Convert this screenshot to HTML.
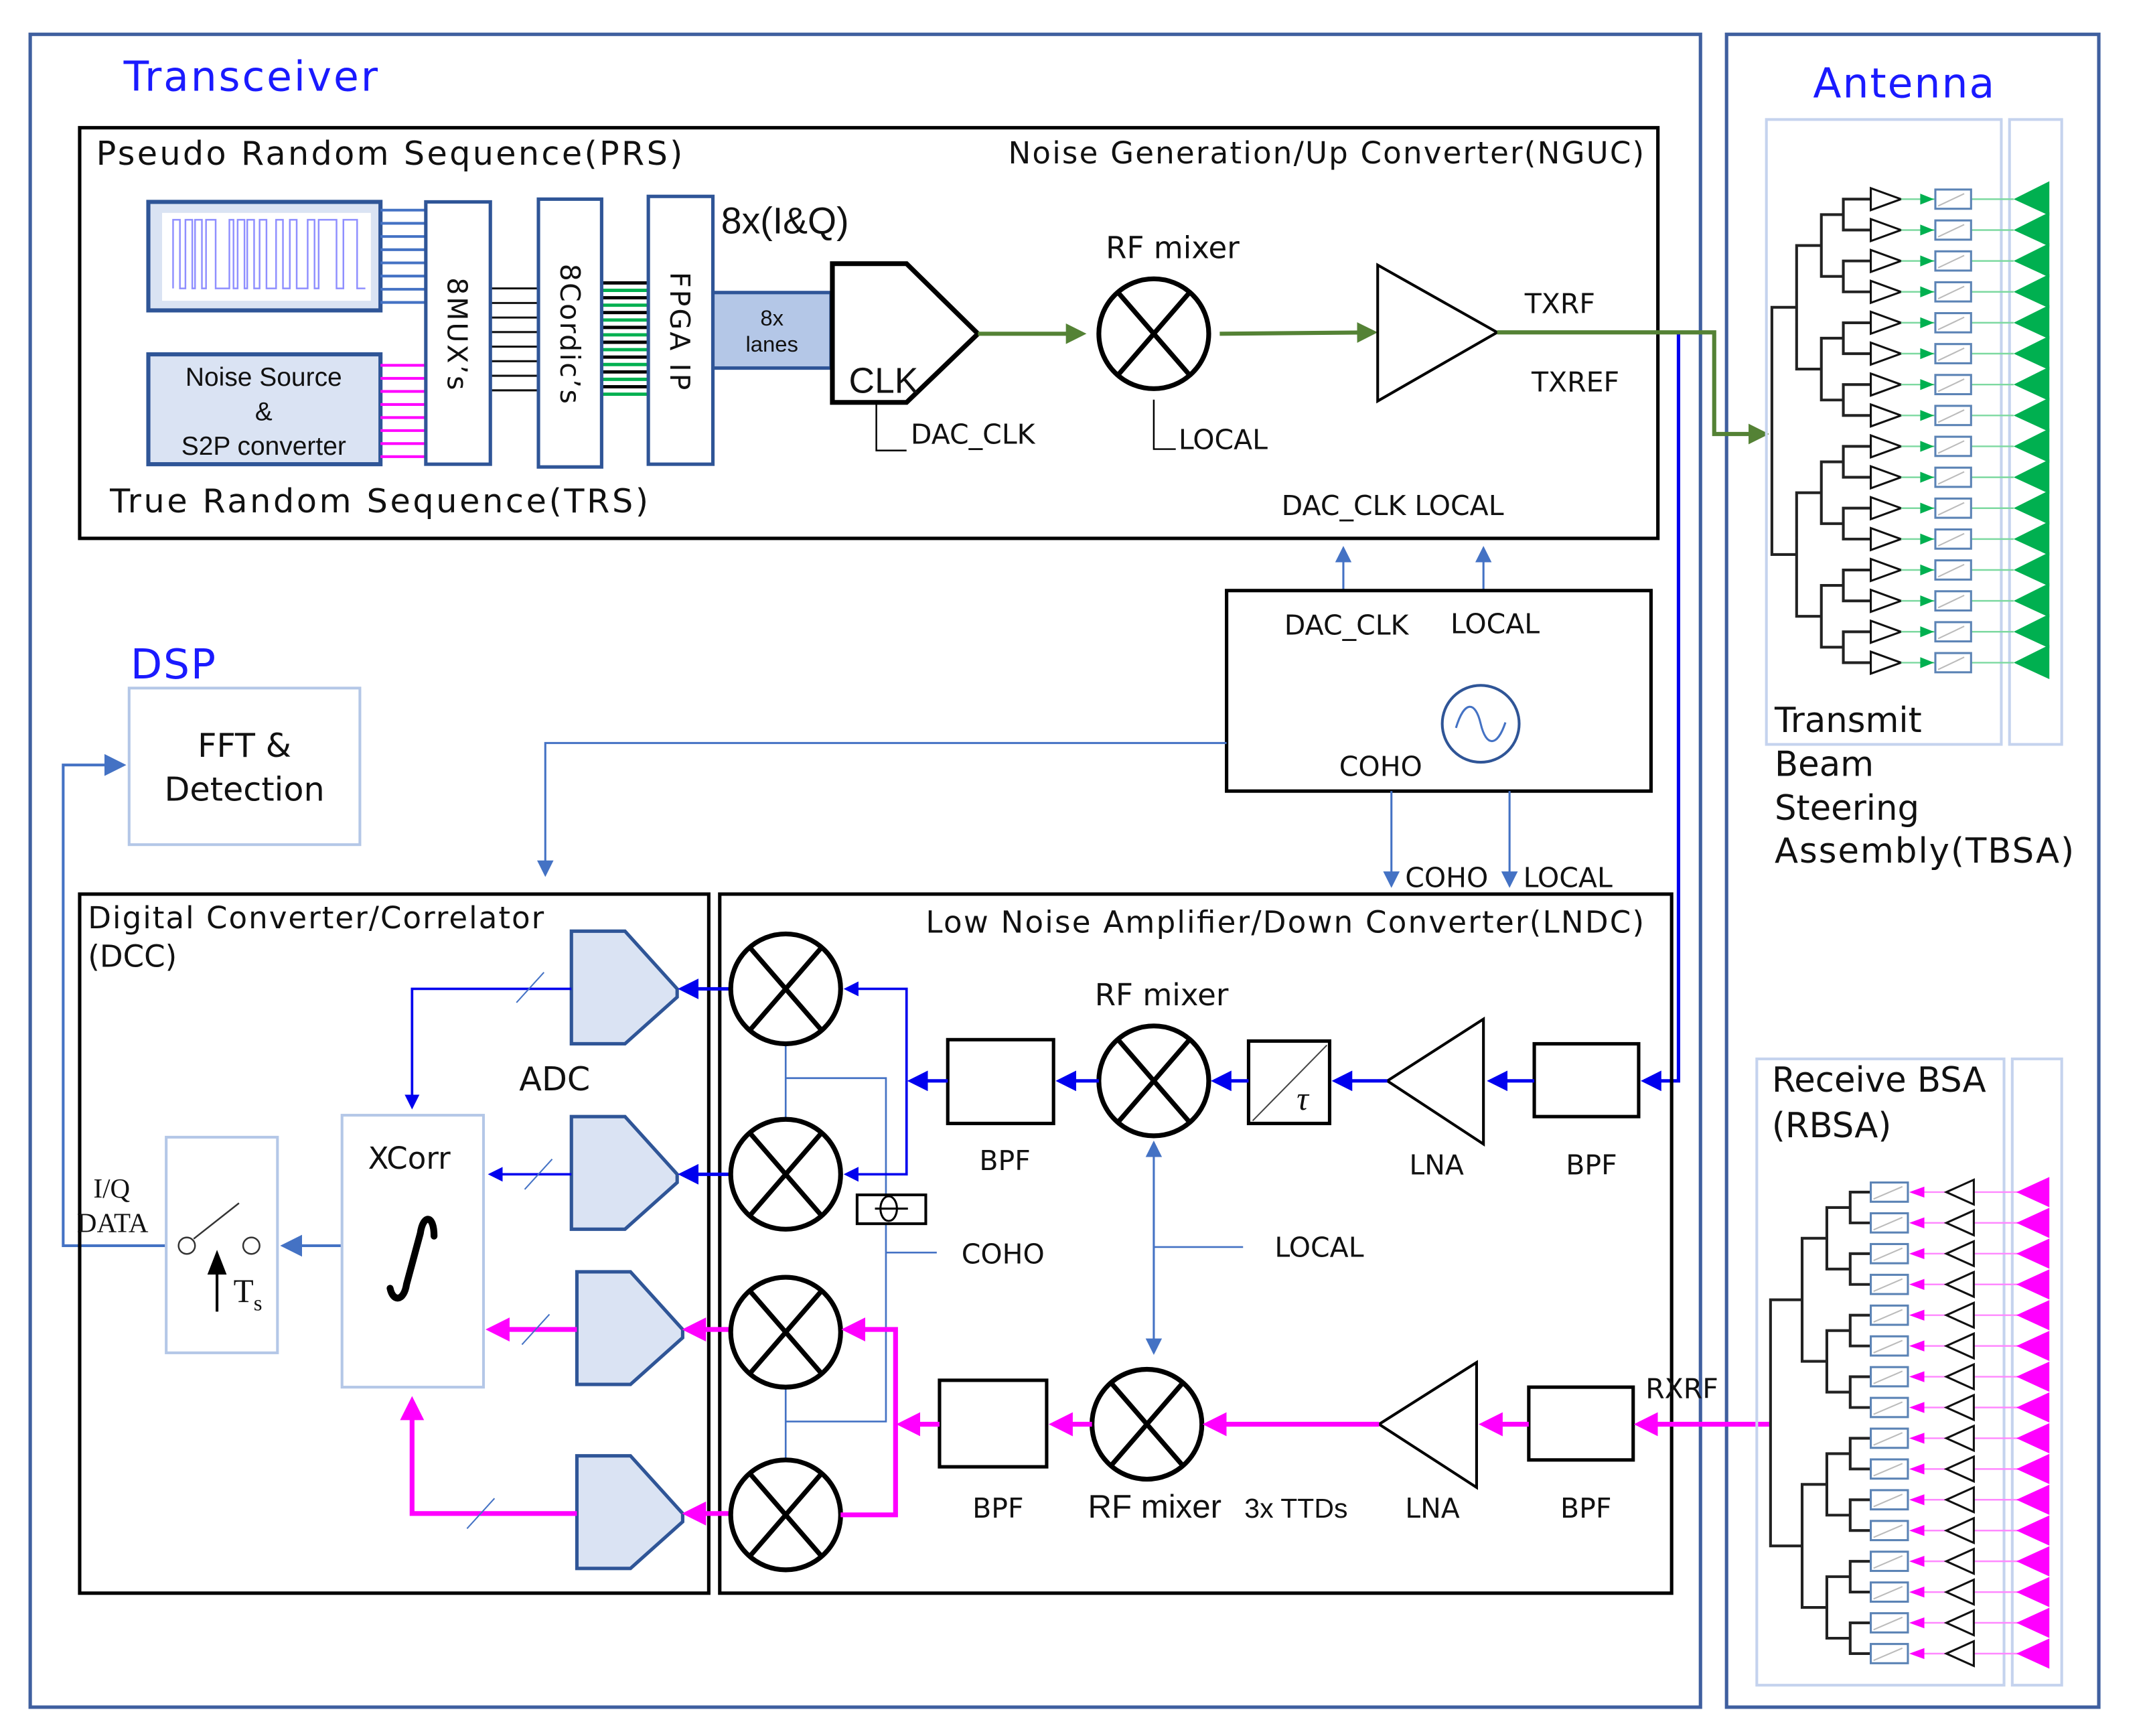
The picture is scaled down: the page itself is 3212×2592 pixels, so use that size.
<!DOCTYPE html>
<html><head><meta charset="utf-8"><style>
html,body{margin:0;padding:0;background:#fff;}
svg{display:block;}
text{font-family:"DejaVu Sans","Liberation Sans",sans-serif;fill:#111;}
.c{font-family:"Liberation Sans Narrow","Liberation Sans",sans-serif;}
</style></head><body>
<svg id="s" xmlns="http://www.w3.org/2000/svg" width="3212" height="2592" viewBox="0 0 1566 1264" preserveAspectRatio="none">
<defs>
<marker id="ab" markerWidth="6" markerHeight="6" refX="5" refY="3" orient="auto" markerUnits="strokeWidth"><path d="M0,0L6,3L0,6z" fill="#0000ee"/></marker>
<marker id="al" markerWidth="8" markerHeight="8" refX="7" refY="4" orient="auto" markerUnits="strokeWidth"><path d="M0,0L8,4L0,8z" fill="#4472c4"/></marker>
<marker id="am" markerWidth="5" markerHeight="5" refX="4" refY="2.5" orient="auto" markerUnits="strokeWidth"><path d="M0,0L5,2.5L0,5z" fill="#ff00ff"/></marker>
<marker id="ag" markerWidth="5" markerHeight="5" refX="4" refY="2.5" orient="auto" markerUnits="strokeWidth"><path d="M0,0L5,2.5L0,5z" fill="#548235"/></marker>
<g id="mix"><ellipse cx="0" cy="0" rx="40" ry="40" fill="#fff" stroke="#000" stroke-width="3.5"/><path d="M-26,-30L26,30M26,-30L-26,30" stroke="#000" stroke-width="3.5"/></g>
<polygon id="adc" points="0,0 39,0 77,42 77,48 39,82 0,82" fill="#dae3f3" stroke="#2f5597" stroke-width="2.5"/>
</defs>
<rect width="1566" height="1264" fill="#fff"/>
<rect x="22" y="25" width="1216" height="1218" fill="none" stroke="#3f5f9f" stroke-width="2.5"/>
<rect x="1257" y="25" width="271" height="1218" fill="none" stroke="#3f5f9f" stroke-width="2.5"/>
<text x="90" y="66" font-size="30" style="fill:#1a1aff" textLength="185">Transceiver</text>
<text x="1320" y="71" font-size="30" style="fill:#1a1aff" textLength="132">Antenna</text>

<rect x="58" y="93" width="1149" height="299" fill="none" stroke="#000" stroke-width="2.5"/>
<text x="70" y="120" font-size="24" textLength="427">Pseudo Random Sequence(PRS)</text>
<text x="734" y="119" font-size="22" textLength="463">Noise Generation/Up Converter(NGUC)</text>
<text x="80" y="373" font-size="24" textLength="392">True Random Sequence(TRS)</text>
<rect x="108" y="147" width="169" height="79" fill="#dae3f3" stroke="#2f5597" stroke-width="3"/>
<rect x="118" y="155" width="152" height="64" fill="#fff"/>
<path d="M126,210 V160 H131 V210 H135 V160 H140 V210 H142 V160 H147 V210 H150 V160 H157 V210 H167 V160 H170 V210 H173 V160 H178 V210 H180 V160 H185 V210 H189 V160 H194 V210 H201 V160 H206 V210 H211 V160 H216 V210 H224 V160 H229 V210 H232 V160 H245 V210 H250 V160 H260 V210 H266" fill="none" stroke="#8f8fff" stroke-width="1.2"/>
<rect x="108" y="258" width="169" height="80" fill="#dae3f3" stroke="#2f5597" stroke-width="3"/>
<text class="c" x="192" y="281" font-size="19" text-anchor="middle">Noise Source</text>
<text class="c" x="192" y="306" font-size="19" text-anchor="middle">&amp;</text>
<text class="c" x="192" y="331" font-size="19" text-anchor="middle">S2P converter</text>
<g id="lines1"></g>
<rect x="310" y="147" width="47" height="191" fill="#fff" stroke="#2f5597" stroke-width="2.5"/>
<rect x="392" y="145" width="46" height="195" fill="#fff" stroke="#2f5597" stroke-width="2.5"/>
<rect x="472" y="143" width="47" height="195" fill="#fff" stroke="#2f5597" stroke-width="2.5"/>
<text x="0" y="0" font-size="20" transform="translate(326,202) rotate(90)" textLength="82">8MUX’s</text>
<text x="0" y="0" font-size="20" transform="translate(408,192) rotate(90)" textLength="102">8Cordic’s</text>
<text x="0" y="0" font-size="20" transform="translate(488,198) rotate(90)" textLength="86">FPGA IP</text>
<text x="525" y="170" font-size="27" style="font-family:'Liberation Sans Narrow','Liberation Sans',sans-serif">8x(I&amp;Q)</text>
<rect x="519" y="213" width="86" height="55" fill="#b4c7e7" stroke="#2f5597" stroke-width="2.5"/>
<text class="c" x="562" y="237" font-size="16" text-anchor="middle">8x</text>
<text class="c" x="562" y="256" font-size="16" text-anchor="middle">lanes</text>
<polygon points="606,192 660,192 712,243 660,293 606,293" fill="#fff" stroke="#000" stroke-width="3.5"/>
<text class="c" x="618" y="286" font-size="26">CLK</text>
<path d="M638,293V328H660" fill="none" stroke="#000" stroke-width="1.2"/>
<text x="663" y="323" font-size="20">DAC_CLK</text>
<path d="M712,243H788" stroke="#548235" stroke-width="3" marker-end="url(#ag)"/>
<use href="#mix" x="840" y="243"/>
<text x="805" y="188" font-size="22">RF mixer</text>
<path d="M840,291V327H856" fill="none" stroke="#000" stroke-width="1.2"/>
<text x="858" y="327" font-size="20">LOCAL</text>
<path d="M888,243L1000,242" stroke="#548235" stroke-width="3" marker-end="url(#ag)"/>
<polygon points="1003,193 1003,292 1090,242" fill="#fff" stroke="#000" stroke-width="2"/>
<text x="1110" y="228" font-size="20">TXRF</text>
<text x="1115" y="285" font-size="20">TXREF</text>
<path d="M1222,242V787H1197" fill="none" stroke="#0000ee" stroke-width="2.5" marker-end="url(#ab)"/>
<path d="M1090,242H1248V316H1285" fill="none" stroke="#548235" stroke-width="3" marker-end="url(#ag)"/>
<text x="933" y="375" font-size="20">DAC_CLK LOCAL</text>
<path d="M978,430V399" stroke="#4472c4" stroke-width="1.5" marker-end="url(#al)"/>
<path d="M1080,430V399" stroke="#4472c4" stroke-width="1.5" marker-end="url(#al)"/>

<rect x="893" y="430" width="309" height="146" fill="none" stroke="#000" stroke-width="2.5"/>
<text x="935" y="462" font-size="20">DAC_CLK</text>
<text x="1056" y="461" font-size="20">LOCAL</text>
<text x="975" y="565" font-size="20">COHO</text>
<ellipse cx="1078" cy="527" rx="28" ry="28" fill="none" stroke="#2f5597" stroke-width="2"/>
<path d="M1060,530 C1066,510 1074,510 1078,527 C1082,544 1090,544 1096,526" fill="none" stroke="#4472c4" stroke-width="1.5"/>
<path d="M893,541H397V637" fill="none" stroke="#4472c4" stroke-width="1.5" marker-end="url(#al)"/>
<path d="M1013,576V645" stroke="#4472c4" stroke-width="1.5" marker-end="url(#al)"/>
<path d="M1099,576V645" stroke="#4472c4" stroke-width="1.5" marker-end="url(#al)"/>
<text x="1023" y="646" font-size="20">COHO</text>
<text x="1109" y="646" font-size="20">LOCAL</text>

<text x="95" y="494" font-size="30" style="fill:#1a1aff" textLength="62">DSP</text>
<rect x="94" y="501" width="168" height="114" fill="none" stroke="#b4c7e7" stroke-width="2"/>
<text x="178" y="551" font-size="24" text-anchor="middle">FFT &amp;</text>
<text x="178" y="583" font-size="24" text-anchor="middle">Detection</text>
<path d="M121,907H46V557H90" fill="none" stroke="#4472c4" stroke-width="2" marker-end="url(#al)"/>

<rect x="58" y="651" width="458" height="509" fill="none" stroke="#000" stroke-width="2.5"/>
<text x="64" y="676" font-size="22" textLength="332">Digital Converter/Correlator</text>
<text x="64" y="704" font-size="22">(DCC)</text>
<rect x="121" y="828" width="81" height="157" fill="none" stroke="#b4c7e7" stroke-width="2"/>
<text x="68" y="872" font-size="20" style="font-family:'Liberation Serif',serif">I/Q</text>
<text x="56" y="897" font-size="20" style="font-family:'Liberation Serif',serif" textLength="52">DATA</text>
<circle cx="136" cy="907" r="6" fill="#fff" stroke="#333" stroke-width="1.2"/>
<circle cx="183" cy="907" r="6" fill="#fff" stroke="#333" stroke-width="1.2"/>
<path d="M141,902L174,876" stroke="#333" stroke-width="1.2"/>
<path d="M158,955V925" stroke="#000" stroke-width="2"/><path d="M151,928L158,910L165,928z" fill="#000"/>
<text x="170" y="948" font-size="24" style="font-family:'Liberation Serif',serif">T<tspan font-size="16" dy="6">s</tspan></text>
<path d="M249,907H206" stroke="#4472c4" stroke-width="2" marker-end="url(#al)"/>
<rect x="249" y="812" width="103" height="198" fill="none" stroke="#b4c7e7" stroke-width="2"/>
<text x="268" y="851" font-size="22">XCorr</text>
<path d="M316,900 C316,884 308,884 306,898 L296,935 C294,948 286,948 284,938" fill="none" stroke="#000" stroke-width="5" stroke-linecap="round"/>
<text x="378" y="794" font-size="24">ADC</text>
<use href="#adc" x="416" y="678"/>
<use href="#adc" x="416" y="813"/>
<use href="#adc" x="420" y="926"/>
<use href="#adc" x="420" y="1060"/>
<path d="M416,720H300V806" fill="none" stroke="#0000ee" stroke-width="1.8" marker-end="url(#ab)"/>
<path d="M416,855H357" stroke="#0000ee" stroke-width="1.8" marker-end="url(#ab)"/>
<path d="M420,968H357" stroke="#ff00ff" stroke-width="3.5" marker-end="url(#am)"/>
<path d="M420,1102H300V1020" fill="none" stroke="#ff00ff" stroke-width="3.5" marker-end="url(#am)"/>
<path d="M376,730L396,708M382,866L402,844M380,979L400,957M340,1113L360,1091" stroke="#4472c4" stroke-width="1"/>

<rect x="524" y="651" width="693" height="509" fill="none" stroke="#000" stroke-width="2.5"/>
<text x="674" y="679" font-size="22" textLength="523">Low Noise Amplifier/Down Converter(LNDC)</text>
<path d="M572,760V815M572,1010V1063M572,785H645V1035H572M645,912H682" fill="none" stroke="#4472c4" stroke-width="1.3"/>
<path d="M532,720H496" stroke="#0000ee" stroke-width="2.5" marker-end="url(#ab)"/>
<path d="M532,855H496" stroke="#0000ee" stroke-width="2.5" marker-end="url(#ab)"/>
<path d="M532,968H500" stroke="#ff00ff" stroke-width="3.5" marker-end="url(#am)"/>
<path d="M532,1102H500" stroke="#ff00ff" stroke-width="3.5" marker-end="url(#am)"/>
<use href="#mix" x="572" y="720"/>
<use href="#mix" x="572" y="855"/>
<use href="#mix" x="572" y="970"/>
<use href="#mix" x="572" y="1103"/>
<path d="M660,787V720H616" fill="none" stroke="#0000ee" stroke-width="1.8" marker-end="url(#ab)"/>
<path d="M660,787V855H616" fill="none" stroke="#0000ee" stroke-width="1.8" marker-end="url(#ab)"/>
<path d="M612,1103H652V968H616" fill="none" stroke="#ff00ff" stroke-width="3.5" marker-end="url(#am)"/>
<rect x="624" y="870" width="50" height="21" fill="#fff" stroke="#000" stroke-width="2"/>
<ellipse cx="647" cy="880" rx="6" ry="9" fill="none" stroke="#000" stroke-width="1.5"/><path d="M637,880H661" stroke="#000" stroke-width="1.5"/>
<text x="700" y="920" font-size="20">COHO</text>
<rect x="690" y="757" width="77" height="61" fill="#fff" stroke="#000" stroke-width="2.5"/>
<text x="713" y="852" font-size="20">BPF</text>
<use href="#mix" x="840" y="787"/>
<text x="797" y="732" font-size="22">RF mixer</text>
<rect x="909" y="758" width="59" height="60" fill="#fff" stroke="#000" stroke-width="2.5"/>
<path d="M912,816L966,761" stroke="#444" stroke-width="1"/>
<text x="944" y="808" font-size="24" style="font-family:'Liberation Serif',serif;font-style:italic">τ</text>
<polygon points="1010,787 1080,742 1080,833" fill="#fff" stroke="#000" stroke-width="2"/>
<rect x="1117" y="760" width="76" height="53" fill="#fff" stroke="#000" stroke-width="2.5"/>
<text x="1026" y="855" font-size="20">LNA</text>
<text x="1140" y="855" font-size="20">BPF</text>
<path d="M1117,787H1085" stroke="#0000ee" stroke-width="2.5" marker-end="url(#ab)"/>
<path d="M1010,787H972" stroke="#0000ee" stroke-width="2.5" marker-end="url(#ab)"/>
<path d="M909,787H884" stroke="#0000ee" stroke-width="2.5" marker-end="url(#ab)"/>
<path d="M800,787H771" stroke="#0000ee" stroke-width="2.5" marker-end="url(#ab)"/>
<path d="M690,787H663" stroke="#0000ee" stroke-width="2.5" marker-end="url(#ab)"/>
<path d="M840,908V832" stroke="#4472c4" stroke-width="1.5" marker-end="url(#al)"/>
<path d="M840,908V985" stroke="#4472c4" stroke-width="1.5" marker-end="url(#al)"/>
<path d="M840,908H905" stroke="#4472c4" stroke-width="1.3"/>
<text x="928" y="915" font-size="20">LOCAL</text>
<rect x="684" y="1005" width="78" height="63" fill="#fff" stroke="#000" stroke-width="2.5"/>
<use href="#mix" x="835" y="1037"/>
<polygon points="1004,1037 1075,992 1075,1083" fill="#fff" stroke="#000" stroke-width="2"/>
<rect x="1113" y="1010" width="76" height="53" fill="#fff" stroke="#000" stroke-width="2.5"/>
<path d="M1288,1037H1193" stroke="#ff00ff" stroke-width="3.5" marker-end="url(#am)"/>
<path d="M1113,1037H1080" stroke="#ff00ff" stroke-width="3.5" marker-end="url(#am)"/>
<path d="M1004,1037H879" stroke="#ff00ff" stroke-width="3.5" marker-end="url(#am)"/>
<path d="M795,1037H767" stroke="#ff00ff" stroke-width="3.5" marker-end="url(#am)"/>
<path d="M684,1037H656" stroke="#ff00ff" stroke-width="3.5" marker-end="url(#am)"/>
<text x="708" y="1105" font-size="20">BPF</text>
<text class="c" x="792" y="1105" font-size="24">RF mixer</text>
<text class="c" x="906" y="1105" font-size="20">3x TTDs</text>
<text x="1023" y="1105" font-size="20">LNA</text>
<text x="1136" y="1105" font-size="20">BPF</text>
<text x="1198" y="1018" font-size="20">RXRF</text>

<rect x="1286" y="87" width="171" height="455" fill="none" stroke="#c5d3ee" stroke-width="2"/>
<rect x="1463" y="87" width="38" height="455" fill="none" stroke="#c5d3ee" stroke-width="2"/>
<text x="1292" y="533" font-size="25">Transmit</text>
<text x="1292" y="565" font-size="25">Beam</text>
<text x="1292" y="597" font-size="25">Steering</text>
<text x="1292" y="628" font-size="25" textLength="218">Assembly(TBSA)</text>
<rect x="1279" y="771" width="180" height="456" fill="none" stroke="#c5d3ee" stroke-width="2"/>
<rect x="1465" y="771" width="36" height="456" fill="none" stroke="#c5d3ee" stroke-width="2"/>
<text x="1290" y="795" font-size="25">Receive BSA</text>
<text x="1290" y="828" font-size="25">(RBSA)</text>
<g id="arr"></g>
</svg>
<script>
var NS="http://www.w3.org/2000/svg";
function el(g,t,a){var e=document.createElementNS(NS,t);for(var k in a)e.setAttribute(k,a[k]);g.appendChild(e);return e;}
var L=document.getElementById('lines1');
for(var i=0;i<8;i++){var y=153+i*9.6;el(L,'path',{d:'M277,'+y+'H310',stroke:'#4472c4','stroke-width':2});
 var y2=266+i*9.5;el(L,'path',{d:'M277,'+y2+'H310',stroke:'#ff00ff','stroke-width':2});
 var y3=210+i*10.6;el(L,'path',{d:'M357,'+y3+'H392',stroke:'#111','stroke-width':1.5});}
for(var i=0;i<16;i++){var y=206+i*5.4;el(L,'path',{d:'M438,'+y+'H472',stroke:i%2?'#00b050':'#000','stroke-width':2.4});}
var A=document.getElementById('arr');
function tree(y0,dy,xs,tx){
 var ys=[];for(var i=0;i<16;i++)ys.push(y0+i*dy);
 var d='';var lvl=ys.slice();
 for(var L2=0;L2<4;L2++){var x=xs[L2];var nx=[];
  for(var j=0;j<lvl.length;j+=2){var a=lvl[j],b=lvl[j+1];
   var xr=(L2==0)?tx:xs[L2-1];
   d+='M'+xr+','+a+'H'+x+'V'+b+'H'+xr;nx.push((a+b)/2);}
  lvl=nx;}
 el(A,'path',{d:d,fill:'none',stroke:'#222','stroke-width':2});
 return ys;}
var ys=tree(145,22.5,[1342,1326,1308,1290],1362);
ys.forEach(function(y){
 el(A,'polygon',{points:'1362,'+(y-8)+' 1362,'+(y+8)+' 1384,'+y,fill:'#fff',stroke:'#111','stroke-width':1.5});
 el(A,'path',{d:'M1384,'+y+'H1466',stroke:'#7dd9a0','stroke-width':1.2});
 el(A,'polygon',{points:'1398,'+(y-4)+' 1398,'+(y+4)+' 1408,'+y,fill:'#00b050'});
 el(A,'rect',{x:1409,y:y-7,width:26,height:14,fill:'#fff',stroke:'#5b83b5','stroke-width':1.5});
 el(A,'path',{d:'M1411,'+(y+5)+'L1430,'+(y-4),stroke:'#bbb','stroke-width':1});
 el(A,'polygon',{points:'1466,'+y+' 1492,'+(y-13)+' 1492,'+(y+12),fill:'#00b050'});
});
var ys2=tree(868,22.4,[1347,1330,1312,1289],1362);
ys2.forEach(function(y){
 el(A,'rect',{x:1362,y:y-7,width:27,height:14,fill:'#fff',stroke:'#5b83b5','stroke-width':1.5});
 el(A,'path',{d:'M1364,'+(y+5)+'L1385,'+(y-4),stroke:'#bbb','stroke-width':1});
 el(A,'path',{d:'M1397,'+y+'H1470',stroke:'#ff88ff','stroke-width':1.2});
 el(A,'polygon',{points:'1390,'+y+' 1401,'+(y-4)+' 1401,'+(y+4),fill:'#ff00ff'});
 el(A,'polygon',{points:'1417,'+y+' 1437,'+(y-9)+' 1437,'+(y+9),fill:'#fff',stroke:'#111','stroke-width':1.5});
 el(A,'polygon',{points:'1468,'+y+' 1492,'+(y-11)+' 1492,'+(y+11),fill:'#ff00ff'});
});
</script>
</body></html>
